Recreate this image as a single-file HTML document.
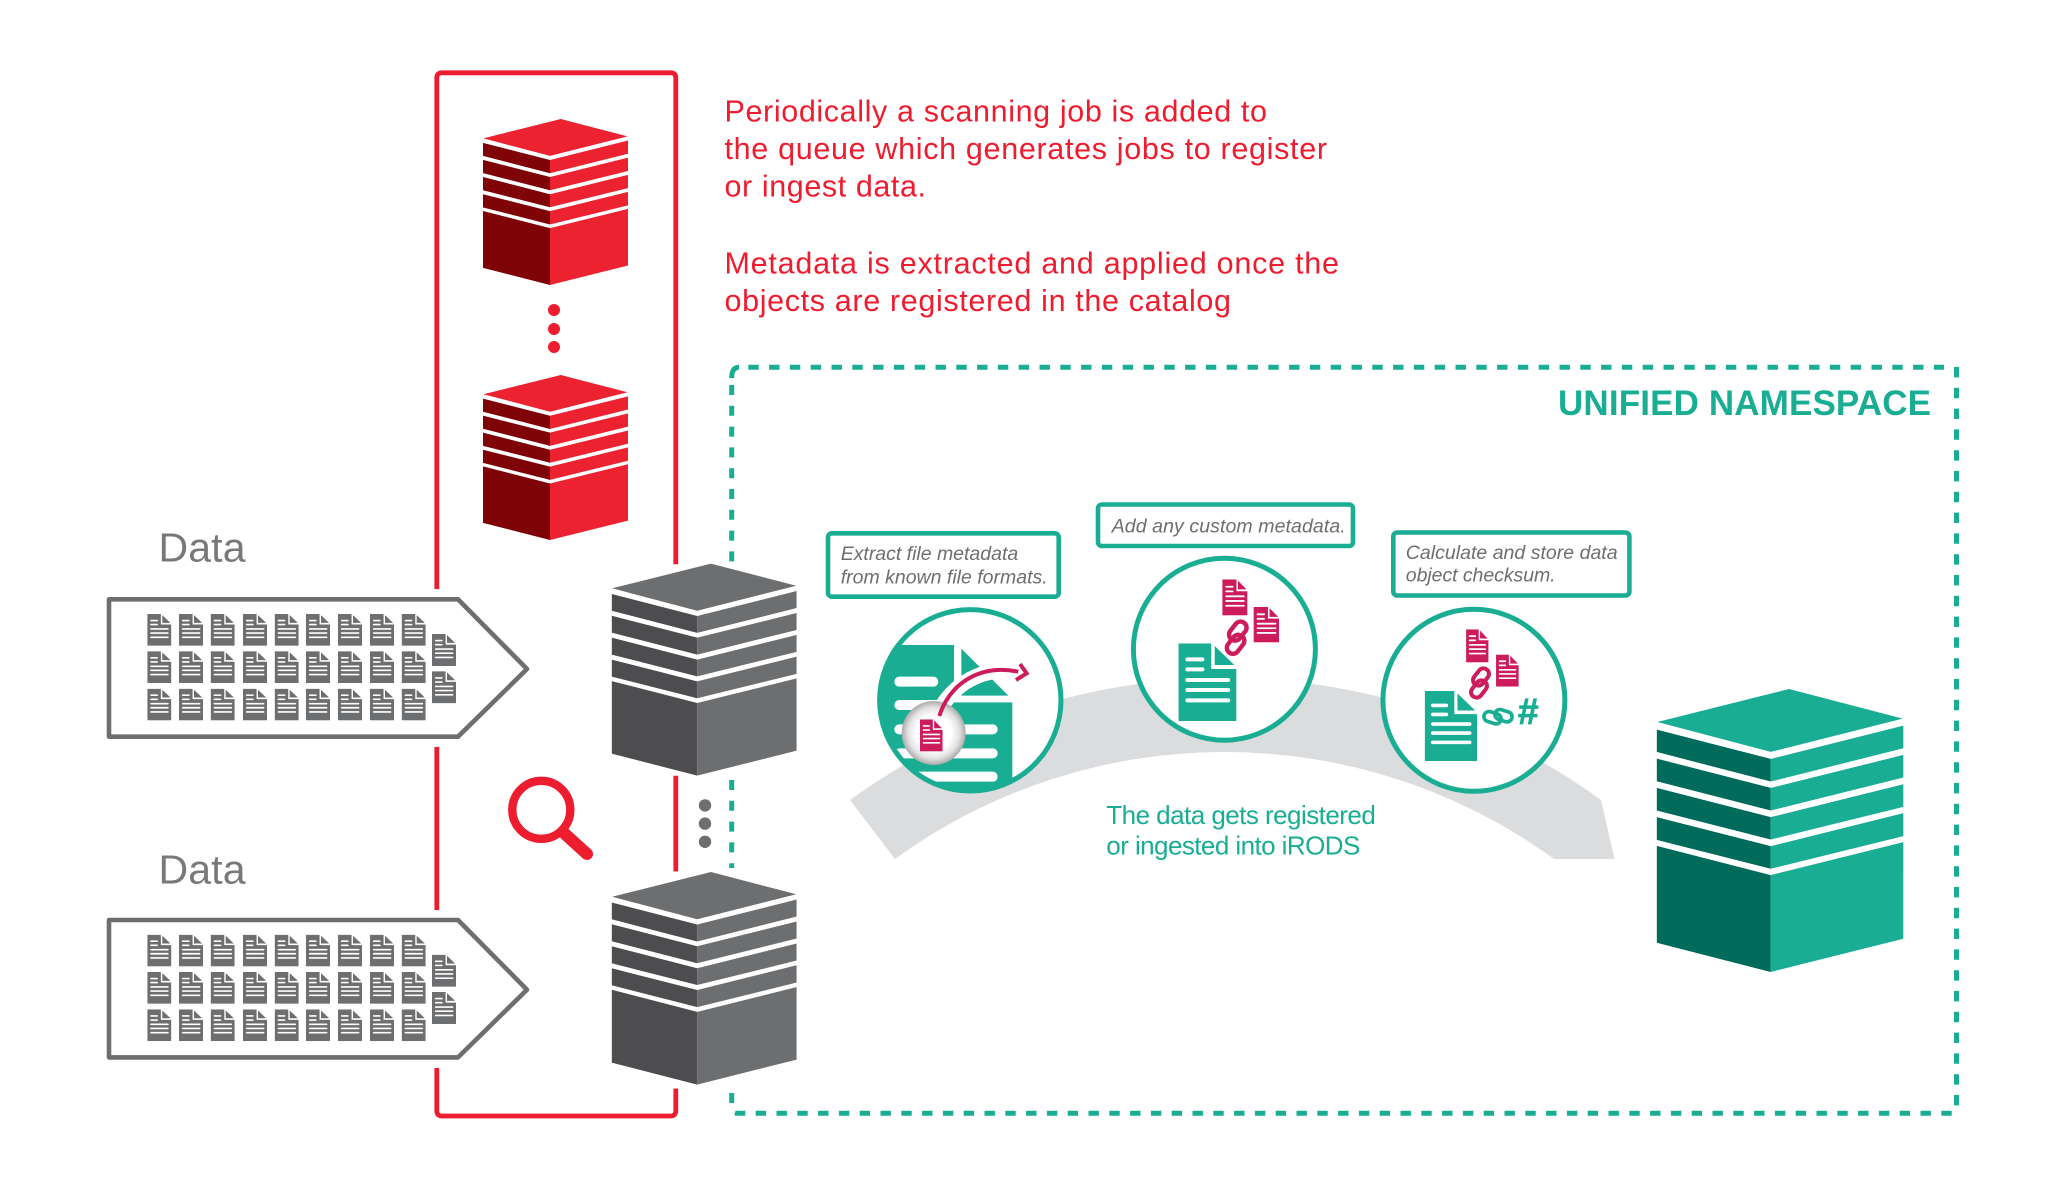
<!DOCTYPE html>
<html lang="en">
<head>
<meta charset="utf-8">
<title>Unified namespace diagram</title>
<style>
html,body{margin:0;padding:0;background:#fff}
svg{display:block}
text{font-family:"Liberation Sans",sans-serif}
</style>
</head>
<body>
<svg xmlns="http://www.w3.org/2000/svg" width="2048" height="1200" viewBox="0 0 2048 1200">
<defs>
<symbol id="cube" viewBox="50 58 740 850" preserveAspectRatio="none">
  <polygon points="52,157 447,58 788,147 392,247"/>
  <polygon fill="currentColor" points="50,180 392,268 392,336 50,247"/>
  <polygon points="392,268 790,168 790,236 392,336"/>
  <polygon fill="currentColor" points="50,267 392,355 392,423 50,335"/>
  <polygon points="392,355 790,256 790,324 392,423"/>
  <polygon fill="currentColor" points="50,355 392,443 392,510 50,423"/>
  <polygon points="392,443 790,344 790,412 392,510"/>
  <polygon fill="currentColor" points="50,443 392,530 392,598 50,511"/>
  <polygon points="392,530 790,431 790,500 392,598"/>
  <polygon fill="currentColor" points="50,529 392,617 392,908 50,820"/>
  <polygon points="392,617 790,518 790,808 392,908"/>
</symbol>
<symbol id="doc" viewBox="0 0 168 233" preserveAspectRatio="none">
  <path d="M0 0H95V77H168V233H0Z"/>
  <path d="M105 8L162 65H105Z"/>
  <g fill="#fff">
    <rect x="20" y="42" width="55" height="12" rx="6"/>
    <rect x="20" y="72" width="55" height="12" rx="6"/>
    <rect x="20" y="104" width="130" height="12" rx="6"/>
    <rect x="20" y="134" width="130" height="12" rx="6"/>
    <rect x="20" y="165" width="130" height="12" rx="6"/>
  </g>
</symbol>
<g id="chain" fill="none" stroke="currentColor" stroke-width="4">
  <rect x="-5.5" y="-9.5" width="11" height="19" rx="5.5" transform="translate(1,-6) rotate(38)"/>
  <rect x="-5.5" y="-9.5" width="11" height="19" rx="5.5" transform="translate(-1,6) rotate(38)"/>
</g>
<g id="row">
  <use href="#doc" x="147.3" width="24" height="31.7"/>
  <use href="#doc" x="179" width="24" height="31.7"/>
  <use href="#doc" x="210.7" width="24" height="31.7"/>
  <use href="#doc" x="243" width="24" height="31.7"/>
  <use href="#doc" x="274.7" width="24" height="31.7"/>
  <use href="#doc" x="306" width="24" height="31.7"/>
  <use href="#doc" x="338" width="24" height="31.7"/>
  <use href="#doc" x="370" width="24" height="31.7"/>
  <use href="#doc" x="401.7" width="24" height="31.7"/>
</g>
<g id="databox">
  <polygon points="109,599.3 458,599.3 527,669 458,736.7 109,736.7" fill="#fff" stroke="#6D6E70" stroke-width="4.6" stroke-linejoin="round"/>
  <g fill="#6D6E70">
    <use href="#row" y="614"/>
    <use href="#row" y="651.3"/>
    <use href="#row" y="688.7"/>
    <use href="#doc" x="432" y="634" width="24" height="32"/>
    <use href="#doc" x="432" y="671.3" width="24" height="32"/>
  </g>
</g>
<radialGradient id="ball" cx="50%" cy="50%" r="50%">
  <stop offset="0" stop-color="#fff"/>
  <stop offset=".55" stop-color="#fff"/>
  <stop offset=".8" stop-color="#e2e2e2"/>
  <stop offset="1" stop-color="#ababab"/>
</radialGradient>
<clipPath id="c1"><circle cx="511" cy="631" r="272"/></clipPath>
</defs>

<rect width="2048" height="1200" fill="#fff"/>

<!-- red queue box -->
<g fill="none" stroke="#ED1C2E" stroke-width="4.8">
  <path d="M436.8 589V78Q436.8 72.8 442 72.8H670.6Q675.8 72.8 675.8 78V564.3"/>
  <path d="M436.8 747V910"/>
  <path d="M436.8 1068V1110.8Q436.8 1116 442 1116H670.6Q675.8 1116 675.8 1110.8V1088.6"/>
  <path d="M675.8 775.7V871.4"/>
</g>

<!-- unified namespace dashes -->
<g fill="none" stroke="#19AE94" stroke-width="5">
  <path d="M731.7 378Q731.7 367.3 739 367.3"/>
  <path d="M748.3 367.3H1944" stroke-dasharray="10.4 10.4"/>
  <path d="M1956.5 367V1106" stroke-dasharray="10.4 10.4"/>
  <path d="M1951.7 1113.3H737Q731.7 1113.3 731.7 1108" stroke-dasharray="10.4 10.4"/>
  <path d="M731.7 385V562" stroke-dasharray="10 10.8"/>
  <path d="M731.7 780V868" stroke-dasharray="10 10.8"/>
  <path d="M731.7 1093V1106" stroke-dasharray="10 10.8"/>
</g>

<!-- red cubes -->
<g fill="#EC2230" color="#7F0408">
  <use href="#cube" x="483" y="119" width="145" height="166"/>
  <use href="#cube" x="483" y="375" width="145" height="165"/>
</g>
<g fill="#ED1C2E">
  <circle cx="554" cy="310" r="6"/>
  <circle cx="554" cy="329" r="6"/>
  <circle cx="554" cy="347" r="6"/>
</g>

<!-- grey cubes -->
<g fill="#6D6E70" color="#4D4D4F">
  <use href="#cube" x="611.7" y="563.6" width="185" height="212"/>
  <use href="#cube" x="611.7" y="872" width="185" height="212.6"/>
</g>
<g fill="#6D6E70">
  <circle cx="705" cy="805.4" r="6.2"/>
  <circle cx="705" cy="823.6" r="6.2"/>
  <circle cx="705" cy="841.8" r="6.2"/>
</g>

<!-- magnifier -->
<circle cx="541.3" cy="809.8" r="29" fill="none" stroke="#ED1C2E" stroke-width="8.4"/>
<path d="M565 834L587 854" stroke="#ED1C2E" stroke-width="12" stroke-linecap="round"/>

<!-- data boxes -->
<use href="#databox"/>
<use href="#databox" transform="translate(0,320.7)"/>
<text x="158.5" y="561.7" font-size="41" fill="#77787A" textLength="87">Data</text>
<text x="158.5" y="883.3" font-size="41" fill="#77787A" textLength="87">Data</text>

<!-- red copy -->
<g fill="#ED1C2E" font-size="30.5">
  <text x="724.5" y="121.7" textLength="542.5">Periodically a scanning job is added to</text>
  <text x="724.5" y="159" textLength="602.5">the queue which generates jobs to register</text>
  <text x="724.5" y="196.7" textLength="201.5">or ingest data.</text>
  <text x="724.5" y="273.3" textLength="614.5">Metadata is extracted and applied once the</text>
  <text x="724.5" y="311" textLength="506.5">objects are registered in the catalog</text>
</g>

<!-- title -->
<text x="1558" y="415" font-size="35" font-weight="bold" fill="#19AE94" textLength="373">UNIFIED NAMESPACE</text>

<!-- grey arc -->
<path d="M850 800A639 639 0 0 1 1601 800L1614.5 859H1554A560.8 560.8 0 0 0 895 859Z" fill="#DBDCDE"/>

<!-- green cube -->
<g fill="#19AE94" color="#006B5A">
  <use href="#cube" x="1656.7" y="689" width="246.7" height="283"/>
</g>

<!-- circles -->
<circle cx="970.3" cy="700.3" r="90.7" fill="#fff"/>
<g transform="translate(800,490) scale(.33333)">
  <g clip-path="url(#c1)">
    <path d="M200 465H462V637H637V920H200Z" fill="#19AE94"/>
    <path d="M484 476L625 617H484Z" fill="#19AE94"/>
    <g fill="#fff">
      <rect x="283" y="560" width="132" height="30" rx="15"/>
      <rect x="283" y="630" width="150" height="30" rx="15"/>
      <rect x="283" y="703" width="310" height="30" rx="15"/>
      <rect x="283" y="775" width="310" height="30" rx="15"/>
      <rect x="283" y="845" width="310" height="30" rx="15"/>
    </g>
    <path d="M405 690C440 600 530 525 660 545" fill="none" stroke="#fff" stroke-width="46"/>
  </g>
  <circle cx="401" cy="729" r="96" fill="url(#ball)"/>
  <path d="M418 678C445 590 530 520 655 545" fill="none" stroke="#CC1C5C" stroke-width="12"/>
  <path d="M660 522L680 550L648 570" fill="none" stroke="#CC1C5C" stroke-width="12"/>
  <use href="#doc" x="360" y="688" width="68" height="96" fill="#CC1C5C"/>
</g>
<circle cx="970.3" cy="700.3" r="90.7" fill="none" stroke="#19AE94" stroke-width="5"/>

<circle cx="1224.4" cy="649.2" r="91" fill="#fff" stroke="#19AE94" stroke-width="5"/>
<circle cx="1473.9" cy="700.3" r="91" fill="#fff" stroke="#19AE94" stroke-width="5"/>

<g transform="translate(1120,490) scale(.34435,.33333)">
  <use href="#doc" x="170" y="460" width="168" height="233" fill="#19AE94"/>
  <use href="#doc" x="297" y="268" width="73" height="108" fill="#CC1C5C"/>
  <use href="#doc" x="388" y="351" width="74" height="106" fill="#CC1C5C"/>
  <use href="#doc" x="885" y="603" width="152" height="210" fill="#19AE94"/>
  <use href="#doc" x="1005" y="418" width="65" height="99" fill="#CC1C5C"/>
  <use href="#doc" x="1092" y="494" width="66" height="96" fill="#CC1C5C"/>
</g>
<use href="#chain" transform="translate(1236.7,637.7) scale(1.1)" color="#CC1C5C"/>
<use href="#chain" transform="translate(1480,683)" color="#CC1C5C"/>
<use href="#chain" transform="translate(1498,716.7) rotate(70) scale(.92)" color="#19AE94"/>
<text x="1518" y="724" font-size="37" font-weight="bold" fill="#19AE94" stroke="#19AE94" stroke-width=".8">#</text>

<!-- label boxes -->
<g fill="#fff" stroke="#19AE94" stroke-width="4.6">
  <rect x="828" y="533.3" width="230.7" height="63.4" rx="4"/>
  <rect x="1098" y="504.5" width="255" height="41.5" rx="4"/>
  <rect x="1393.3" y="532.5" width="236.1" height="63" rx="4"/>
</g>
<g fill="#6D6E70" font-size="19.5" font-style="italic">
  <text x="840.7" y="560" textLength="177.5">Extract file metadata</text>
  <text x="840.7" y="583.3" textLength="207">from known file formats.</text>
  <text x="1111.7" y="532.3" textLength="234">Add any custom metadata.</text>
  <text x="1405.8" y="559" textLength="211.8">Calculate and store data</text>
  <text x="1405.8" y="581.7" textLength="149.8">object checksum.</text>
</g>

<!-- arc caption -->
<g fill="#19AE94" font-size="26">
  <text x="1106.3" y="824" textLength="269.5">The data gets registered</text>
  <text x="1106.3" y="854.3" textLength="254">or ingested into iRODS</text>
</g>
</svg>
</body>
</html>
